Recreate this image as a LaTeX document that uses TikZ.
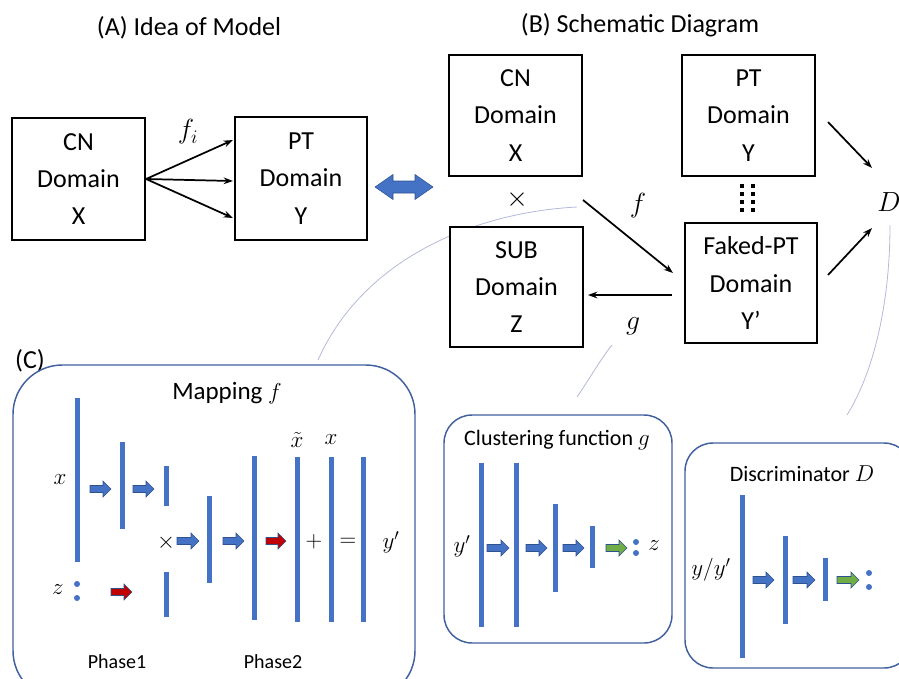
\documentclass[tikz,border=0pt]{standalone}
\usepackage{fontspec}
\setmainfont{Carlito}
\usetikzlibrary{arrows.meta,calc}
\definecolor{barblue}{HTML}{4472C4}
\definecolor{edgeblue}{HTML}{2F528F}
\definecolor{boxblue}{HTML}{41609E}
\definecolor{arrred}{HTML}{C00000}
\definecolor{arrgreen}{HTML}{70AD47}
\definecolor{thincol}{HTML}{B4B9DC}
\newcommand\blockarr[4]{\filldraw[fill=#4,draw=edgeblue,line width=0.4pt] (#1,#3-3.5) -- (#2-8,#3-3.5) -- (#2-8,#3-8) -- (#2,#3) -- (#2-8,#3+8) -- (#2-8,#3+3.5) -- (#1,#3+3.5) -- cycle;}
\newcommand\vbar[3]{\fill[barblue] (#1-2.5,#2) rectangle (#1+2.5,#3);}
\newcommand\bluecolon[3]{\fill[barblue] (#1,#2) circle[radius=3] (#1,#3) circle[radius=3];}
\tikzset{
  ttl/.style={font=\fontsize{19.5}{24}\selectfont},
  dombox/.style={draw, line width=1.6pt, fill=white, align=center, inner sep=0pt,
     font=\fontsize{19.5}{28}\selectfont},
  blk/.style={line width=1.3pt, -{Stealth[length=7pt,width=5pt]}},
  thinline/.style={thincol, line width=0.6pt},
  panel/.style={draw=boxblue, line width=1.1pt},
  mlbl/.style={font=\fontsize{18}{20}\selectfont},
  sub/.style={font=\fontsize{16.5}{20}\selectfont},
  phase/.style={font=\fontsize{15}{17}\selectfont}
}
\begin{document}
\begin{tikzpicture}[x=0.75pt,y=-0.75pt]
\useasboundingbox (0,0) rectangle (899,678);
\clip (0,0) rectangle (899,678);

% titles
\node[ttl] (tA) at (189,28) {(A) Idea of Model};
\node[ttl] (tB) at (640,25) {(B) Schematic Diagram};
\node[ttl] (tC) at (30,361) {(C)};

% thin connecting curves
\draw[thinline] (318,360) .. controls (365,255) and (480,212) .. (577,207);
\draw[thinline] (577,397) .. controls (590,378) and (600,360) .. (612,345);
\draw[thinline] (890,225) .. controls (890,300) and (875,370) .. (847,415);

% (A)
\node[dombox, minimum width=99.75pt, minimum height=91.5pt] (acn) at (78.5,179) {CN\\Domain\\X};
\node[dombox, minimum width=99pt, minimum height=92.25pt] (apt) at (301,178.5) {PT\\Domain\\Y};
\coordinate (a1) at (233,140);
\coordinate (a2) at (233,181);
\coordinate (a3) at (233,218);
\draw[blk] (acn.east) -- (a1);
\draw[blk] (acn.east) -- (a2);
\draw[blk] (acn.east) -- (a3);
\node[ttl] (fi) at (188,132) {$f_i$};

% double arrow
\filldraw[fill=barblue, draw=edgeblue, line width=0.4pt] (375,187) -- (393,174.5) -- (393,181) -- (415,181) -- (415,174.5) -- (433,187) -- (415,199.5) -- (415,193) -- (393,193) -- (393,199.5) -- cycle;

% (B)
\node[dombox, minimum width=99.75pt, minimum height=90.75pt] (bcn) at (515.5,115.5) {CN\\Domain\\X};
\node[dombox, minimum width=99.75pt, minimum height=90.75pt] (bpt) at (748.5,115.5) {PT\\Domain\\Y};
\node[dombox, minimum width=99.75pt, minimum height=90pt] (bsub) at (516.5,287) {SUB\\Domain\\Z};
\node[dombox, minimum width=99pt, minimum height=90pt] (bfk) at (751,283) {Faked-PT\\Domain\\Y’};
\node[ttl] (times) at (517,200) {$\times$};
\foreach \xx in {742,753}{
  \foreach \yy in {186,194,202,210}{
    \fill (\xx-1.6,\yy-1.6) rectangle (\xx+1.6,\yy+1.6);
  }
}
\coordinate (fs) at (583,200);
\coordinate (fe) at (673,273);
\draw[blk] (fs) -- (fe);
\node[ttl] (flab) at (638,206) {$f$};
\coordinate (gs) at (672,295);
\coordinate (ge) at (588,295);
\draw[blk] (gs) -- (ge);
\node[ttl] (glab) at (633,326) {$g$};
\node[ttl] (D) at (889,202) {$D$};
\coordinate (d1s) at (828,122);
\coordinate (d1e) at (872,168);
\coordinate (d2s) at (828,275);
\coordinate (d2e) at (872,228);
\draw[blk] (d1s) -- (d1e);
\draw[blk] (d2s) -- (d2e);

% (C) Mapping f
\draw[panel, rounded corners=37pt] (13,365) rectangle (415,700);
\node[font=\fontsize{18.75}{22}\selectfont] (tmap) at (227,393) {Mapping $f$};
\vbar{77}{398}{562}
\vbar{122}{442}{529}
\vbar{166}{466}{506}
\vbar{166}{572}{617}
\vbar{209}{496}{583}
\vbar{254}{456}{620}
\vbar{297}{457}{622}
\vbar{331}{457}{622}
\vbar{363}{457}{622}
\node[mlbl] (mx) at (60,480) {$x$};
\node[mlbl] (mz) at (58,590) {$z$};
\bluecolon{77}{584}{598}
\node[mlbl] (mxt) at (297,440) {$\tilde{x}$};
\node[mlbl] (mx2) at (331,440) {$x$};
\node[mlbl] (mtimes) at (166,543) {$\times$};
\node[mlbl] (mplus) at (314,542) {$+$};
\node[mlbl] (meq) at (348,542) {$=$};
\node[mlbl] (myp) at (391,542) {$y'$};
\blockarr{90}{111}{489}{barblue}
\blockarr{133}{154}{489}{barblue}
\blockarr{177}{199}{541}{barblue}
\blockarr{223}{244}{541}{barblue}
\blockarr{266}{286}{541}{arrred}
\blockarr{111}{132}{592}{arrred}
\node[phase] (ph1) at (117,662) {Phase1};
\node[phase] (ph2) at (273,662) {Phase2};

% Clustering function g
\draw[panel, rounded corners=21pt] (444,415) rectangle (672,643);
\node[sub] (tclu) at (557,440) {Clustering function $g$};
\vbar{481}{463}{627}
\vbar{516}{463}{627}
\vbar{555}{504}{592}
\vbar{592}{526}{568}
\node[mlbl] (cyp) at (462,546) {$y'$};
\blockarr{487}{509}{548}{barblue}
\blockarr{526}{547}{548}{barblue}
\blockarr{563}{584}{548}{barblue}
\blockarr{606}{627}{548}{arrgreen}
\bluecolon{636}{542}{553}
\node[mlbl] (cz) at (654,546) {$z$};

% Discriminator D
\draw[panel, rounded corners=21pt] (685,443) rectangle (912,668);
\node[sub] (tdis) at (802,474) {Discriminator $D$};
\vbar{742}{495}{658}
\vbar{785}{536}{624}
\vbar{825}{558}{601}
\node[mlbl] (dyy) at (711,570) {$y/y'$};
\blockarr{753}{774}{580}{barblue}
\blockarr{793}{815}{580}{barblue}
\blockarr{837}{859}{580}{arrgreen}
\bluecolon{869}{573}{587}
\end{tikzpicture}
\end{document}
